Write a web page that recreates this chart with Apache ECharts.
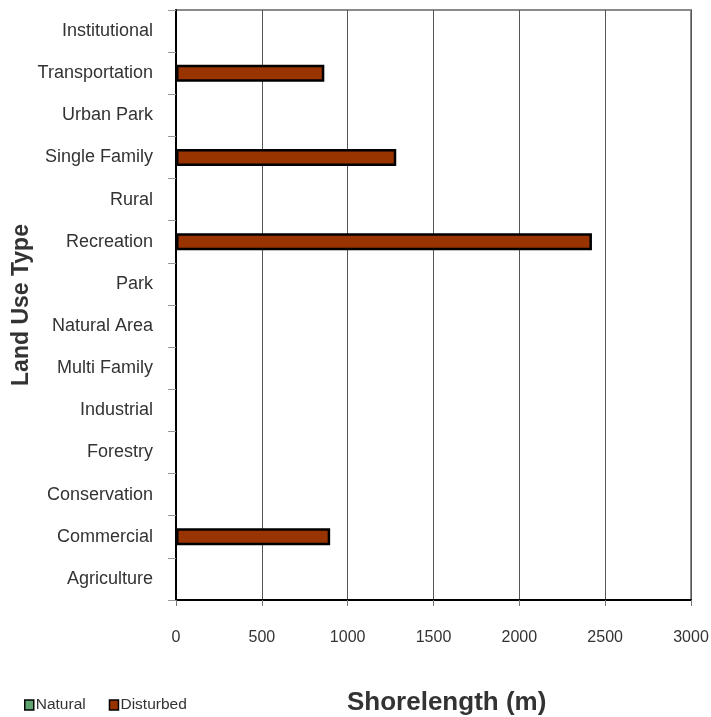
<!DOCTYPE html>
<html><head><meta charset="utf-8">
<script src="https://cdn.jsdelivr.net/npm/echarts@6/dist/echarts.min.js"></script>
<style>html,body{margin:0;padding:0;background:#fff}#c{width:711px;height:717px}</style>
</head><body><div id="c"></div>
<script>
const categories = ['Agriculture','Commercial','Conservation','Forestry','Industrial','Multi Family','Natural Area','Park','Recreation','Rural','Single Family','Urban Park','Transportation','Institutional'];
const naturalValues = [0,0,0,0,0,0,0,0,0,0,0,0,0,0];
const disturbedValues = [0,898,0,0,0,0,0,0,2423,0,1283,0,864,0];
const xTicks = [0,500,1000,1500,2000,2500,3000];
const FONT = '"Liberation Sans",Arial,sans-serif';
const hideZero = arr => arr.map(v => v === 0 ? '-' : v);
const chart = echarts.init(document.getElementById('c'), null, {renderer:'canvas'});
chart.setOption({
  animation:false,
  backgroundColor:'#fff',
  title:{text:'Shorelength (m)',left:342,top:685,textStyle:{fontFamily:FONT,fontSize:26,fontWeight:'bold',color:'#333'}},
  legend:{left:19,top:692,itemWidth:9,itemHeight:10,itemGap:23,icon:'rect',
    itemStyle:{borderColor:'#000',borderWidth:1.5},
    textStyle:{fontFamily:FONT,fontSize:15.5,color:'#333',padding:[0,0,0,-3]},
    data:['Natural','Disturbed']},
  grid:{left:176,top:10,width:515,height:590,show:true,borderColor:'#8a8a8a',borderWidth:2,containLabel:false,outerBoundsMode:'none'},
  xAxis:{type:'value',min:0,max:3000,interval:500,
    axisLine:{show:true,lineStyle:{color:'#000',width:2}},
    axisTick:{show:true,length:6,lineStyle:{color:'#777'}},
    splitLine:{show:true,lineStyle:{color:'#555',width:1}},
    axisLabel:{fontFamily:FONT,fontSize:16,color:'#333',margin:30,
      formatter:v=>xTicks.includes(v)?String(v):''}},
  yAxis:{type:'category',data:categories,
    name:'Land Use Type',nameLocation:'middle',nameGap:143,nameMoveOverlap:false,
    nameTextStyle:{fontFamily:FONT,fontSize:23,fontWeight:'bold',color:'#333'},
    axisLine:{show:true,lineStyle:{color:'#000',width:2}},
    axisTick:{show:true,length:8,inside:false,lineStyle:{color:'#999'}},
    axisLabel:{fontFamily:FONT,fontSize:18,color:'#333',margin:23}},
  series:[
    {name:'Natural',type:'bar',data:hideZero(naturalValues),barWidth:17,barGap:'-100%',
      itemStyle:{color:'#5fa36f',borderColor:'#000',borderWidth:2.5}},
    {name:'Disturbed',type:'bar',data:hideZero(disturbedValues),barWidth:17,
      itemStyle:{color:'#993300',borderColor:'#000',borderWidth:2.5}}
  ]
});
</script></body></html>
